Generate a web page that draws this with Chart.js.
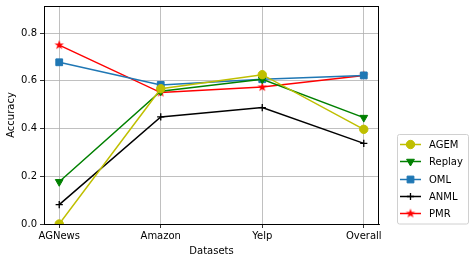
<!DOCTYPE html>
<html>
<head>
<meta charset="utf-8">
<script src="https://cdn.jsdelivr.net/npm/chart.js@4"></script>
<style>
  html, body { margin: 0; padding: 0; background: #fff; }
  #wrap { width: 474px; height: 262px; }
</style>
</head>
<body>
<div id="wrap"><canvas id="chart" width="474" height="262"></canvas></div>
<script>
const categories = ["AGNews", "Amazon", "Yelp", "Overall"];
const agem = [0.0, 0.567, 0.626, 0.397];
const replay = [0.177, 0.557, 0.607, 0.446];
const oml = [0.678, 0.583, 0.607, 0.623];
const anml = [0.081, 0.449, 0.488, 0.338];
const pmr = [0.750, 0.551, 0.574, 0.623];
const yTicks = [0.0, 0.2, 0.4, 0.6, 0.8];

function starMarker(color, r) {
  const c = document.createElement("canvas");
  const size = Math.ceil(r * 2 + 2);
  c.width = size;
  c.height = size;
  const ctx = c.getContext("2d");
  ctx.translate(size / 2, size / 2);
  ctx.beginPath();
  for (let i = 0; i < 10; i++) {
    const rad = i % 2 === 0 ? r : r * 0.4;
    const a = -Math.PI / 2 + i * Math.PI / 5;
    ctx.lineTo(rad * Math.cos(a), rad * Math.sin(a));
  }
  ctx.closePath();
  ctx.fillStyle = color;
  ctx.fill();
  return c;
}

const pmrStar = starMarker("#ff0000", 5);

function toPoints(values) {
  return values.map((v, i) => ({ x: i, y: v }));
}

const series = [
  { label: "AGEM", data: agem, color: "#bfbf00", style: "circle", radius: 4.2, rotation: 0 },
  { label: "Replay", data: replay, color: "#008000", style: "triangle", radius: 4.5, rotation: 180 },
  { label: "OML", data: oml, color: "#1f77b4", style: "rect", radius: 4.8, rotation: 0 },
  { label: "ANML", data: anml, color: "#000000", style: "cross", radius: 3.6, rotation: 0 },
  { label: "PMR", data: pmr, color: "#ff0000", style: pmrStar, radius: 5, rotation: 0 }
];

const frame = {
  id: "frame",
  afterDraw(chart) {
    const { ctx, chartArea: a } = chart;
    ctx.save();
    ctx.strokeStyle = "#000";
    ctx.lineWidth = 1;
    ctx.strokeRect(a.left + 0.5, a.top + 0.5, a.right - a.left - 1, a.bottom - a.top);
    ctx.restore();
  }
};

const legendBox = {
  id: "legendBox",
  afterDraw(chart) {
    const ctx = chart.ctx;
    ctx.save();
    ctx.fillStyle = "rgba(255,255,255,0.8)";
    ctx.strokeStyle = "#d0d0d0";
    ctx.lineWidth = 1;
    ctx.beginPath();
    ctx.roundRect(397.5, 134.5, 71, 89.5, 2);
    ctx.fill();
    ctx.stroke();
    const rows = [144.5, 161.5, 179.5, 196.5, 213.5];
    chart.data.datasets.forEach((ds, i) => {
      const y = rows[i];
      ctx.strokeStyle = ds.borderColor;
      ctx.fillStyle = ds.borderColor;
      ctx.lineWidth = 1.5;
      ctx.beginPath();
      ctx.moveTo(400, y);
      ctx.lineTo(421, y);
      ctx.stroke();
      ctx.lineWidth = ds.pointBorderWidth;
      Chart.helpers.drawPoint(ctx, {
        pointStyle: ds.pointStyle,
        radius: ds.pointRadius,
        rotation: ds.pointRotation,
        borderWidth: ds.pointBorderWidth
      }, 410.5, y);
      ctx.fillStyle = "#000";
      ctx.font = "10px 'DejaVu Sans'";
      ctx.textBaseline = "middle";
      ctx.textAlign = "left";
      ctx.fillText(ds.label, 429, y + 0.5);
    });
    ctx.restore();
  }
};

new Chart(document.getElementById("chart"), {
  type: "line",
  data: {
    datasets: series.map((s) => ({
      label: s.label,
      data: toPoints(s.data),
      borderColor: s.color,
      backgroundColor: s.color,
      pointBackgroundColor: s.color,
      pointBorderColor: s.color,
      borderWidth: 1.5,
      pointStyle: s.style,
      pointRadius: s.radius,
      pointRotation: s.rotation,
      pointBorderWidth: s.style === "cross" ? 1.3 : 1,
      tension: 0
    }))
  },
  options: {
    responsive: false,
    animation: false,
    devicePixelRatio: 1,
    layout: { padding: { top: 6, right: 95, left: 0, bottom: 0 } },
    plugins: { legend: { display: false }, tooltip: { enabled: false } },
    scales: {
      x: {
        type: "linear",
        min: -0.15,
        max: 3.15,
        afterBuildTicks: (scale) => {
          scale.ticks = categories.map((c, i) => ({ value: i }));
        },
        afterFit: (scale) => { scale.height = 38; },
        ticks: {
          callback: (v) => categories[v],
          color: "#000",
          font: { family: "DejaVu Sans", size: 10 },
          padding: 2,
          maxRotation: 0,
          autoSkip: false
        },
        grid: { color: "#b0b0b0", lineWidth: 0.8, tickColor: "#000", tickLength: 4 },
        border: { color: "#000" },
        title: {
          display: true,
          text: "Datasets",
          color: "#000",
          font: { family: "DejaVu Sans", size: 10 },
          padding: { top: 1, bottom: 5 }
        }
      },
      y: {
        min: 0,
        max: 0.914,
        afterBuildTicks: (scale) => {
          scale.ticks = yTicks.map((v) => ({ value: v }));
        },
        afterFit: (scale) => {
          scale.width = 44;
          scale.paddingTop = 0;
          scale.paddingBottom = 0;
        },
        ticks: {
          callback: (v) => v.toFixed(1),
          color: "#000",
          font: { family: "DejaVu Sans", size: 10 },
          padding: 3
        },
        grid: { color: "#b0b0b0", lineWidth: 0.8, tickColor: "#000", tickLength: 4 },
        border: { color: "#000" },
        title: {
          display: true,
          text: "Accuracy",
          color: "#000",
          font: { family: "DejaVu Sans", size: 10 },
          padding: { top: 5, bottom: 2 }
        }
      }
    }
  },
  plugins: [frame, legendBox]
});
</script>
</body>
</html>
